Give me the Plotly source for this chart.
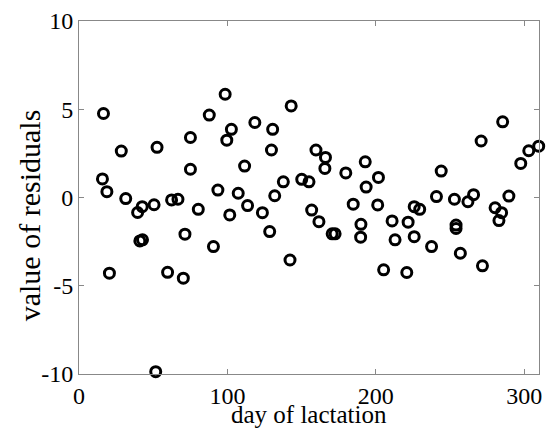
import plotly.graph_objects as go

day = [16.5, 15.8, 18.8, 28.5, 31.5, 39.5, 42.6, 50.6, 52.6, 62.4, 66.7, 75.1, 75.1, 80.4, 71.4,
       41.0, 42.8, 20.5, 59.7, 70.3, 51.7,
       98.5, 87.8, 102.7, 99.6, 118.5, 130.5, 129.7, 111.6, 93.6, 107.3, 113.6, 123.6, 131.9,
       137.7, 101.6, 128.5, 90.6, 142.2, 143.0,
       159.7, 166.1, 165.7, 192.9, 179.8, 201.8, 193.5, 150.1, 155.0, 184.8, 201.3, 156.8,
       161.7, 190.0, 211.0, 170.6, 172.6, 189.8, 213.0, 205.3,
       285.5, 271.0, 309.8, 303.1, 297.7, 244.1, 240.9, 253.0, 262.1, 265.9, 289.7, 280.4,
       284.8, 283.0, 225.9, 229.6, 221.8, 254.1, 254.1, 225.9, 237.6, 257.0, 271.9, 220.9]
residual = [4.76, 1.05, 0.33, 2.63, -0.06, -0.85, -0.52, -0.41, 2.84, -0.14, -0.10, 3.40, 1.60, -0.67, -2.08,
            -2.46, -2.40, -4.29, -4.24, -4.57, -9.87,
            5.85, 4.67, 3.86, 3.25, 4.25, 3.86, 2.69, 1.78, 0.42, 0.24, -0.46, -0.86, 0.10,
            0.89, -0.99, -1.93, -2.78, -3.54, 5.19,
            2.69, 2.27, 1.65, 2.02, 1.39, 1.14, 0.59, 1.03, 0.89, -0.38, -0.42, -0.71,
            -1.37, -1.52, -1.33, -2.06, -2.06, -2.25, -2.40, -4.10,
            4.29, 3.20, 2.91, 2.65, 1.93, 1.50, 0.05, -0.10, -0.24, 0.16, 0.08, -0.58,
            -0.86, -1.31, -0.52, -0.67, -1.40, -1.56, -1.75, -2.22, -2.78, -3.16, -3.87, -4.25]

x_ticks = [0, 100, 200, 300]
y_ticks = [-10, -5, 0, 5, 10]

fig = go.Figure(go.Scatter(
    x=day, y=residual, mode="markers", cliponaxis=False,
    marker=dict(symbol="circle-open", size=10, color="black", line=dict(width=3, color="black")),
))

font = "Liberation Serif"
axis_common = dict(showgrid=False, zeroline=False, showline=True, linecolor="#888888", linewidth=1,
                   mirror="allticks", ticks="inside", ticklen=5, tickcolor="#888888",
                   tickfont=dict(family=font, size=24, color="black"))
fig.update_xaxes(range=[0, 310], tickvals=x_ticks, ticktext=[str(v) for v in x_ticks], **axis_common)
fig.update_yaxes(range=[-10, 10], tickvals=y_ticks, ticktext=[str(v) for v in y_ticks], **axis_common)

plot_w, plot_h = 463, 353.6
fig.add_annotation(text="day of lactation", xref="paper", yref="paper",
                   x=0.5, y=(374.3 - 430) / plot_h, xanchor="center", yanchor="bottom",
                   showarrow=False, font=dict(family=font, size=25, color="black"))
fig.add_annotation(text="value of residuals", xref="paper", yref="paper",
                   x=(30 - 79) / plot_w, y=(374.3 - 215) / plot_h, xanchor="center", yanchor="middle",
                   textangle=-90, showarrow=False, font=dict(family=font, size=30, color="black"))
fig.update_layout(width=549, height=430, margin=dict(l=79, r=7, t=21, b=56),
                  paper_bgcolor="white", plot_bgcolor="white", showlegend=False)
fig.write_html("out.html")
